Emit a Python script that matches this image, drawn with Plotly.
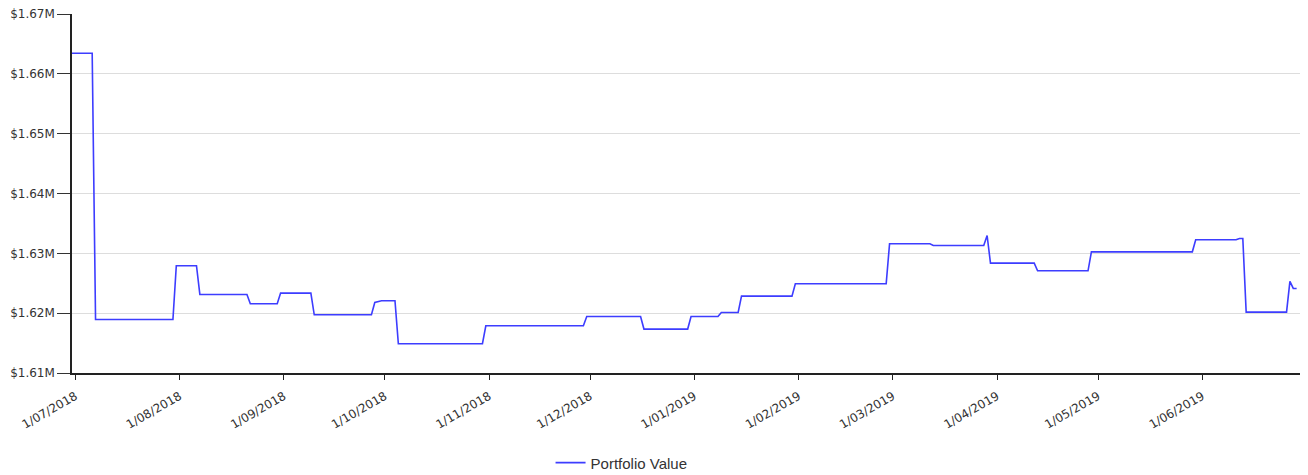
import plotly.graph_objects as go

dates = [
    "2018-06-30", "2018-07-06", "2018-07-07", "2018-07-30", "2018-07-31",
    "2018-08-06", "2018-08-07", "2018-08-21", "2018-08-22", "2018-08-30",
    "2018-08-31", "2018-09-09", "2018-09-10", "2018-09-27", "2018-09-28",
    "2018-09-30", "2018-10-04", "2018-10-05", "2018-10-30", "2018-10-31",
    "2018-11-29", "2018-11-30", "2018-12-16", "2018-12-17", "2018-12-30",
    "2018-12-31", "2019-01-08", "2019-01-09", "2019-01-14", "2019-01-15",
    "2019-01-30", "2019-01-31", "2019-02-27", "2019-02-28", "2019-03-12",
    "2019-03-13", "2019-03-28", "2019-03-29", "2019-03-30", "2019-04-12",
    "2019-04-13", "2019-04-28", "2019-04-29", "2019-05-29", "2019-05-30",
    "2019-06-11", "2019-06-12", "2019-06-13", "2019-06-14", "2019-06-26",
    "2019-06-27", "2019-06-28", "2019-06-29",
]
portfolio_value = [
    1663430, 1663430, 1618950, 1618950, 1627920,
    1627920, 1623130, 1623130, 1621570, 1621570,
    1623350, 1623350, 1619730, 1619730, 1621790,
    1622070, 1622070, 1614890, 1614890, 1617900,
    1617900, 1619450, 1619450, 1617340, 1617340,
    1619450, 1619450, 1620120, 1620120, 1622850,
    1622850, 1624910, 1624910, 1631590, 1631590,
    1631310, 1631310, 1632980, 1628360, 1628360,
    1627080, 1627080, 1630250, 1630250, 1632260,
    1632260, 1632480, 1632480, 1620180, 1620180,
    1625300, 1624130, 1624130,
]

x_tick_vals = ["2018-07-01", "2018-08-01", "2018-09-01", "2018-10-01", "2018-11-01",
               "2018-12-01", "2019-01-01", "2019-02-01", "2019-03-01", "2019-04-01",
               "2019-05-01", "2019-06-01"]
x_tick_text = ["1/07/2018", "1/08/2018", "1/09/2018", "1/10/2018", "1/11/2018",
               "1/12/2018", "1/01/2019", "1/02/2019", "1/03/2019", "1/04/2019",
               "1/05/2019", "1/06/2019"]
y_tick_vals = [1610000, 1620000, 1630000, 1640000, 1650000, 1660000, 1670000]
y_tick_text = ["$1.61M", "$1.62M", "$1.63M", "$1.64M", "$1.65M", "$1.66M", "$1.67M"]

fig = go.Figure()
fig.add_trace(go.Scatter(
    x=dates, y=portfolio_value, mode="lines", name="Portfolio Value",
    line=dict(color="#3d3dff", width=1.6),
))

# page body has an 8px margin, so the figure is sized/offset to compensate
fig.update_layout(
    width=1300, height=467,
    margin=dict(l=64, r=8, t=6, b=102, autoexpand=False),
    paper_bgcolor="white", plot_bgcolor="white",
    showlegend=True,
    legend=dict(orientation="h", x=0.3897, xanchor="left", y=-0.2045, yanchor="top",
                font=dict(family="Liberation Sans, Arial", size=15, color="#333333")),
    font=dict(family="DejaVu Sans, Verdana", size=12, color="#333333"),
)
fig.update_xaxes(
    type="date", range=["2018-06-30", "2019-06-30"],
    tickvals=x_tick_vals, ticktext=x_tick_text, tickangle=-30,
    showline=True, linecolor="#222222", linewidth=1.5,
    ticks="outside", ticklen=5, tickcolor="#222222",
    ticklabelstandoff=5, ticklabeloverflow="allow",
    showgrid=False, zeroline=False, automargin=False,
    tickfont=dict(family="DejaVu Sans, Verdana", size=12, color="#333333"),
)
fig.update_yaxes(
    range=[1610000, 1670000],
    tickvals=y_tick_vals, ticktext=y_tick_text,
    showline=True, linecolor="#222222", linewidth=1.5,
    ticks="outside", ticklen=13, tickcolor="#333333",
    ticklabeloverflow="allow",
    showgrid=True, gridcolor="#dddddd", gridwidth=1, zeroline=False, automargin=False,
    tickfont=dict(family="DejaVu Sans, Verdana", size=12, color="#333333"),
)

fig.write_html("out.html")
